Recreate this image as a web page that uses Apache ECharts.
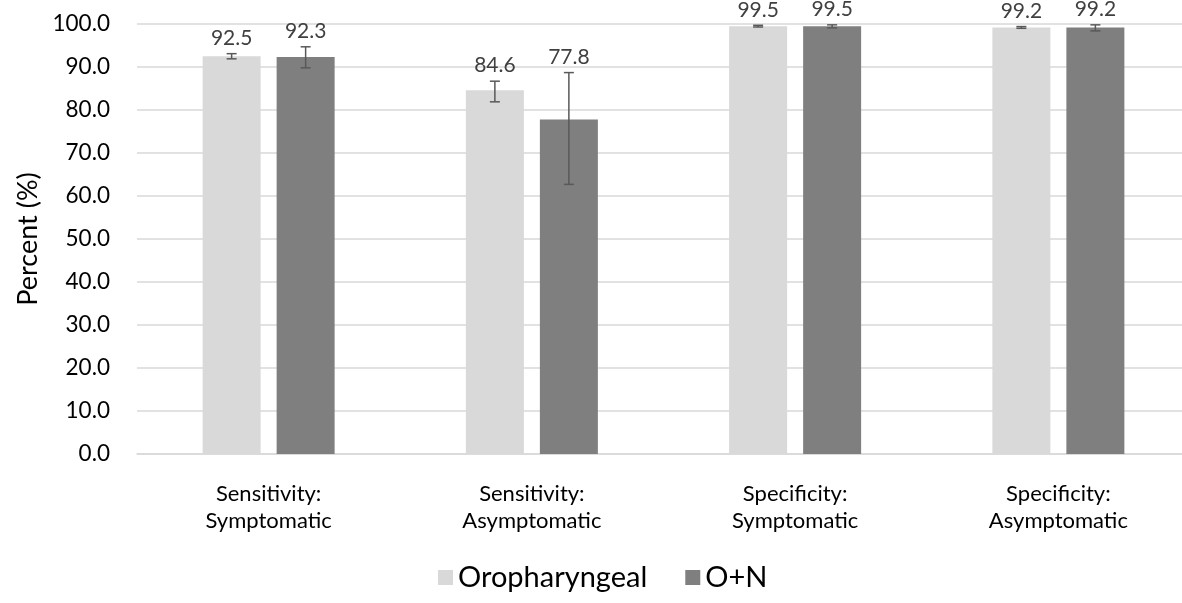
<!DOCTYPE html>
<html><head><meta charset="utf-8">
<script src="https://cdn.jsdelivr.net/npm/echarts@6/dist/echarts.min.js"></script>
<style>html,body{margin:0;padding:0;background:#fff;overflow:hidden;width:1182px;height:603px}#c{width:1210px;height:603px}</style>
</head><body><div id="c"></div>
<script>
const categories = ['Sensitivity:\nSymptomatic', 'Sensitivity:\nAsymptomatic', 'Specificity:\nSymptomatic', 'Specificity:\nAsymptomatic'];
const seriesNames = ['Oropharyngeal', 'O+N'];
const oroValues = [92.5, 84.6, 99.5, 99.2];
const oroLow = [91.9, 81.9, 99.3, 99.0];
const oroHigh = [93.1, 86.7, 99.7, 99.4];
const onValues = [92.3, 77.8, 99.5, 99.2];
const onLow = [89.8, 62.7, 99.1, 98.4];
const onHigh = [94.7, 88.7, 99.8, 99.8];
const yTicks = [0, 10, 20, 30, 40, 50, 60, 70, 80, 90, 100];

const FONT = 'Lato';
const BAR_W = 58, GAP = 16;
const colors = ['#d9d9d9', '#7f7f7f'];

function errSeries(name, vals, lows, highs, side) {
  return {
    type: 'custom', name: name + ' err', silent: true, z: 5,
    data: vals.map((v, i) => [i, lows[i], highs[i], v]),
    renderItem: function (params, api) {
      const i = api.value(0);
      const lo = api.coord([i, api.value(1)]);
      const hi = api.coord([i, api.value(2)]);
      const x = lo[0] + side * (BAR_W / 2 + GAP / 2);
      const cw = 5;
      const st = { stroke: '#595959', lineWidth: 1.5 };
      return {
        type: 'group', children: [
          { type: 'line', shape: { x1: x, y1: hi[1], x2: x, y2: lo[1] }, style: st },
          { type: 'line', shape: { x1: x - cw, y1: hi[1], x2: x + cw, y2: hi[1] }, style: st },
          { type: 'line', shape: { x1: x - cw, y1: lo[1], x2: x + cw, y2: lo[1] }, style: st },
          { type: 'text', style: { text: api.value(3).toFixed(1), x: x, y: hi[1] - 5, textAlign: 'center', textVerticalAlign: 'bottom', fill: '#404040', font: '21px ' + FONT } }
        ]
      };
    }
  };
}

const chart = echarts.init(document.getElementById('c'));
chart.setOption({
  animation: false,
  textStyle: { fontFamily: FONT },
  grid: { left: 137, top: 24, width: 1053, height: 430, containLabel: false },
  legend: {
    bottom: 6, left: 433, itemWidth: 15, itemHeight: 15, itemGap: 38,
    data: seriesNames,
    textStyle: { fontFamily: FONT, fontSize: 29, color: '#000' },
    icon: 'rect'
  },
  xAxis: {
    type: 'category', data: categories,
    axisLine: { lineStyle: { color: '#d9d9d9', width: 1.5 } },
    axisTick: { show: false },
    axisLabel: { fontFamily: FONT, fontSize: 22, color: '#000', lineHeight: 27, margin: 26 }
  },
  yAxis: {
    type: 'value', min: 0, max: 100, interval: 10,
    name: 'Percent (%)', nameLocation: 'middle', nameGap: 95,
    nameTextStyle: { fontFamily: FONT, fontSize: 27, color: '#000' },
    axisLabel: { fontFamily: FONT, fontSize: 22.5, color: '#000', margin: 27,
      formatter: v => yTicks.includes(v) ? v.toFixed(1) : '' },
    splitLine: { lineStyle: { color: '#d9d9d9', width: 1.5 } },
    axisLine: { show: false }, axisTick: { show: false }
  },
  series: [
    { type: 'bar', name: seriesNames[0], data: oroValues, barWidth: BAR_W, barGap: (GAP / BAR_W * 100) + '%', itemStyle: { color: colors[0] } },
    { type: 'bar', name: seriesNames[1], data: onValues, barWidth: BAR_W, itemStyle: { color: colors[1] } },
    errSeries(seriesNames[0], oroValues, oroLow, oroHigh, -1),
    errSeries(seriesNames[1], onValues, onLow, onHigh, 1)
  ]
});
</script></body></html>
